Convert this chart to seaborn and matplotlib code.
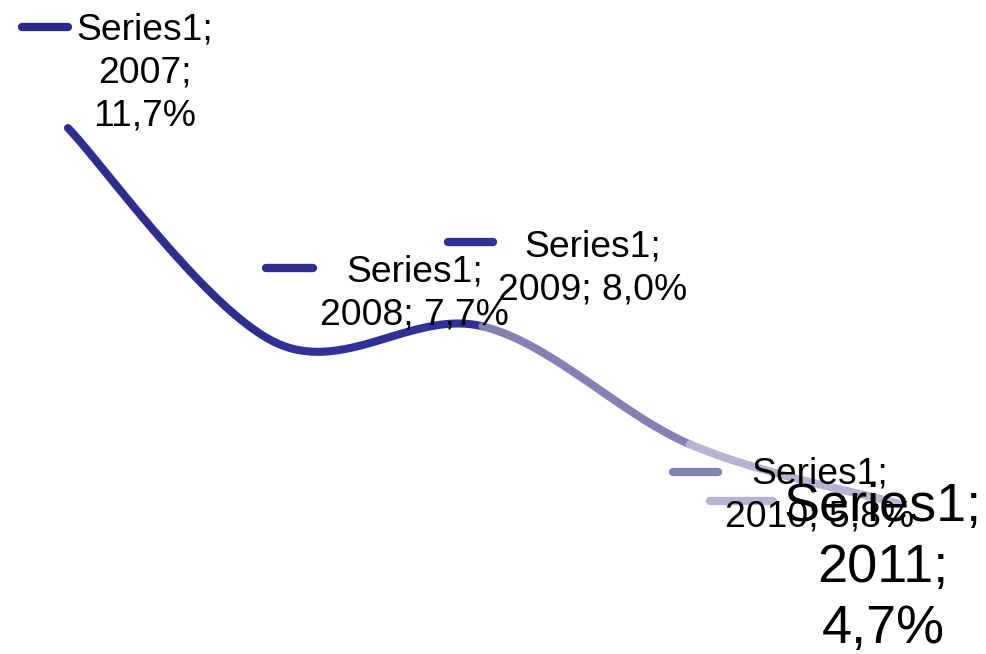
import numpy as np
import pandas as pd
import seaborn as sns
import matplotlib.pyplot as plt
from matplotlib.transforms import IdentityTransform

years = [2007, 2008, 2009, 2010, 2011]
values = [11.7, 7.7, 8.0, 5.8, 4.7]
labels = ['Series1;\n2007;\n11,7%', 'Series1;\n2008; 7,7%', 'Series1;\n2009; 8,0%',
          'Series1;\n2010; 5,8%', 'Series1;\n2011;\n4,7%']
colors = ['#2A2A86', '#2E2E8E', '#303099', '#8282B3', '#B5B5D1']

sns.set_theme(style='white')
plt.rcParams['font.family'] = ['Liberation Sans', 'DejaVu Sans']

fig = plt.figure(figsize=(9.87, 6.54), dpi=100)
ax = fig.add_axes([0, 0, 1, 1])
ax.set_xlim(2006.672, 2011.434)
ax.set_ylim(1.887, 14.088)
ax.axis('off')

# smoothed line, Excel-like bezier between points, each piece coloured by its end point
pts = np.column_stack([years, values]).astype(float)
ext = np.vstack([pts[0], pts, pts[-1]])
t = np.linspace(0, 1, 60)[:, None]
for i in range(len(pts) - 1):
    p0, p3 = ext[i + 1], ext[i + 2]
    p1 = p0 + (ext[i + 2] - ext[i]) / 6
    p2 = p3 - (ext[i + 3] - ext[i + 1]) / 6
    curve = (1 - t) ** 3 * p0 + 3 * (1 - t) ** 2 * t * p1 + 3 * (1 - t) * t ** 2 * p2 + t ** 3 * p3
    seg = pd.DataFrame({'x': curve[:, 0], 'y': curve[:, 1]})
    sns.lineplot(data=seg, x='x', y='y', sort=False, ax=ax, color=colors[i + 1],
                 linewidth=5.8, solid_capstyle='round', zorder=2)

# data labels with legend keys (pixel offsets from each point)
text_off = [(77, 55), (139, 49), (110, 58), (130, -51), (-14, -65)]
key_off = [(-46, 0, 101), (-9, 38, 74), (-35, 10, 84), (-17, 28, -28), (-187, -124, 2)]
sizes = [26.8, 26.8, 26.8, 26.8, 38.9]
for i, (yr, v) in enumerate(zip(years, values)):
    px, py = ax.transData.transform((yr, v))
    x0, x1, dy = key_off[i]
    ax.plot([px + x0, px + x1], [py + dy, py + dy], transform=IdentityTransform(),
            color=colors[i], linewidth=6, solid_capstyle='round', zorder=3)
    ax.annotate(labels[i], xy=(yr, v), xytext=text_off[i], textcoords='offset pixels',
                ha='center', va='center', fontsize=sizes[i], linespacing=1.28,
                color='black', zorder=4)

fig.savefig('out.png', dpi=100)
